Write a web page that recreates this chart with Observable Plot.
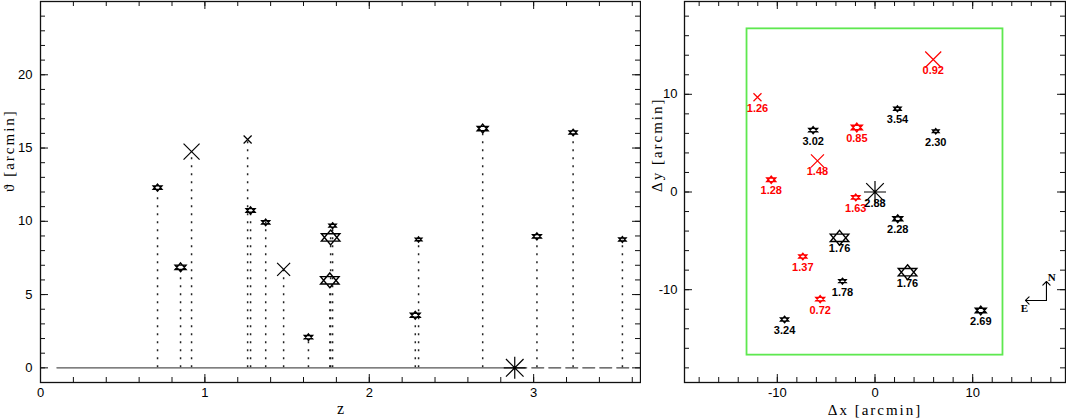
<!DOCTYPE html>
<html><head><meta charset="utf-8">
<script src="https://cdn.jsdelivr.net/npm/d3@7"></script>
<script src="https://cdn.jsdelivr.net/npm/@observablehq/plot@0.6"></script>
<style>
body{margin:0;background:#fff;}
#wrap{position:relative;width:1066px;height:419px;overflow:hidden;background:#fff;}
#left{position:absolute;left:0;top:0;}
#right{position:absolute;left:640px;top:0;}
#wrap g[font-size="15"]{letter-spacing:2px;}
</style></head><body><div id="wrap"><div id="left"></div><div id="right"></div></div>
<script>
// ---- data ----
const labels = ["0.72","0.85","0.92","1.26","1.28","1.37","1.48","1.63","1.76","1.76","1.78","2.28","2.30","2.69","2.88","3.02","3.24","3.54"];
const zVals  = [0.712,0.852,0.919,1.26,1.278,1.37,1.479,1.63,1.765,1.76,1.777,2.28,2.30,2.69,2.885,3.02,3.24,3.54];
const thetaVals = [12.3,6.86,14.76,15.58,10.74,9.93,6.72,2.09,8.9,5.97,9.7,3.59,8.76,16.33,0,8.97,16.06,8.76];
const dxVals = [-5.61,-1.86,5.96,-12.03,-10.62,-7.39,-5.89,-1.97,3.33,-3.63,-3.33,2.33,6.22,10.83,0,-6.33,-9.26,2.30];
const dyVals = [-10.97,6.60,13.56,9.70,1.25,-6.60,3.19,-0.56,-8.21,-4.69,-9.13,-2.74,6.22,-12.13,0,6.33,-13.05,8.52];
const kinds  = ["star","star","x","x","star","star","x","star","star","star","star","star","star","star","ast","star","star","star"];
const sizes  = [3.5,4.4,8,4,3.6,3.2,6.5,3.3,7.4,7.4,2.9,3.9,2.6,4.4,11,3.5,3.2,2.9];
const isRed  = [true,true,true,true,true,true,true,true,false,false,false,false,false,false,false,false,false,false];

const baseSolid  = [0.1, 2.885];
const baseDashed = [2.885, 3.58];
const fieldX = [-13.1, 13.1];
const fieldY = [-16.7, 16.7];
const compassCorner = [17.55, -11.1];
const compassN = [17.55, -9.16];
const compassE = [15.4, -11.1];
const compassLabels = [{t:"N", x:18.1, y:-8.7}, {t:"E", x:15.3, y:-11.95}];

const zTicks = [0,1,2,3];
const thetaTicks = [0,5,10,15,20];
const offTicks = [-10,0,10];

const rows = labels.map((l,i)=>({label:l, z:zVals[i], theta:thetaVals[i], dx:dxVals[i], dy:dyVals[i], kind:kinds[i], size:sizes[i], color:isRed[i]?"#ff0000":"#000000"}));

// ---- symbols ----
const hexagram = {draw(ctx, size){ const r=Math.sqrt(size/Math.PI), w=r*1.25;
  ctx.moveTo(0,-r); ctx.lineTo(w,r*0.5); ctx.lineTo(-w,r*0.5); ctx.closePath();
  ctx.moveTo(0,r); ctx.lineTo(w,-r*0.5); ctx.lineTo(-w,-r*0.5); ctx.closePath(); }};
const cross = {draw(ctx, size){ const r=Math.sqrt(size/Math.PI);
  ctx.moveTo(-r,-r); ctx.lineTo(r,r); ctx.moveTo(-r,r); ctx.lineTo(r,-r); }};
const asterisk = {draw(ctx, size){ const r=Math.sqrt(size/Math.PI), d=r*0.8;
  ctx.moveTo(-r,0); ctx.lineTo(r,0); ctx.moveTo(0,-r); ctx.lineTo(0,r);
  ctx.moveTo(-d,-d); ctx.lineTo(d,d); ctx.moveTo(-d,d); ctx.lineTo(d,-d); }};
const symFor = {star: hexagram, x: cross, ast: asterisk};

function range(a,b,s){const out=[];for(let v=a;v<=b+1e-9;v+=s)out.push(+v.toFixed(6));return out;}

// inward ticks on all four sides
function frameTicks(xMaj, xMin, yMaj, yMin, plotW, plotH){
  const M=8, m=5, st={stroke:"#111", strokeWidth:1};
  return [
    Plot.tickX(xMin,{x:d=>d, insetTop:plotH-m, ...st}),
    Plot.tickX(xMaj,{x:d=>d, insetTop:plotH-M, ...st}),
    Plot.tickX(xMin,{x:d=>d, insetBottom:plotH-m, ...st}),
    Plot.tickX(xMaj,{x:d=>d, insetBottom:plotH-M, ...st}),
    Plot.tickY(yMin,{y:d=>d, insetRight:plotW-m, ...st}),
    Plot.tickY(yMaj,{y:d=>d, insetRight:plotW-M, ...st}),
    Plot.tickY(yMin,{y:d=>d, insetLeft:plotW-m, ...st}),
    Plot.tickY(yMaj,{y:d=>d, insetLeft:plotW-M, ...st})
  ];
}
const tickFont = "'Liberation Sans', Arial, sans-serif";
const labFont = "'Liberation Serif', 'DejaVu Serif', serif";
const fmt = d => String(d);

function markers(xk, yk, fill){
  return ["star","x","ast"].map(k => Plot.dot(rows.filter(r=>r.kind===k), {
    x:xk, y:yk, r:"size", symbol: symFor[k], stroke: fill==="white" ? "#000" : "color",
    fill: k==="star" ? fill : "none", strokeWidth: k==="star"?1.4:1.2
  }));
}

// ---- left panel ----
const L = {w:641, h:419, ml:40, mr:1, mt:1, mb:37};
const left = Plot.plot({
  width:L.w, height:L.h, marginLeft:L.ml, marginRight:L.mr, marginTop:L.mt, marginBottom:L.mb,
  x:{domain:[0,3.65]}, y:{domain:[-1,25]}, r:{type:"identity"},
  style:{fontFamily:tickFont, fontSize:"13px", color:"#000", background:"transparent"},
  marks:[
    Plot.ruleX(rows.filter(r=>r.theta>0), {x:"z", y1:0, y2:"theta", stroke:"#222", strokeWidth:1.5, strokeDasharray:"2,6"}),
    Plot.line(baseSolid.map(v=>({z:v, t:0})), {x:"z", y:"t", stroke:"#555", strokeWidth:1.4}),
    Plot.line(baseDashed.map(v=>({z:v, t:0})), {x:"z", y:"t", stroke:"#444", strokeWidth:1.2, strokeDasharray:"12,5"}),
    ...markers("z","theta","white"),
    ...frameTicks(zTicks, range(0,3.6,0.2), thetaTicks, range(-1,25,1), L.w-L.ml-L.mr, L.h-L.mt-L.mb),
    Plot.frame({stroke:"#111", strokeWidth:1.3}),
    Plot.axisX(zTicks, {anchor:"bottom", tickSize:0, tickPadding:5, label:null, fontSize:13, tickFormat:fmt}),
    Plot.axisY(thetaTicks, {anchor:"left", tickSize:0, tickPadding:8, label:null, fontSize:13, tickFormat:fmt}),
    Plot.text(["ϑ [arcmin]"], {text:d=>d, frameAnchor:"left", dx:-31, rotate:-90, fontSize:15, fontFamily:labFont}),
    Plot.text(["z"], {text:d=>d, frameAnchor:"bottom", dy:31, fontSize:16, fontFamily:labFont})
  ]
});
document.getElementById("left").append(left);

// ---- right panel ----
const R = {w:426, h:419, ml:44, mr:1, mt:1, mb:37};
const right = Plot.plot({
  width:R.w, height:R.h, marginLeft:R.ml, marginRight:R.mr, marginTop:R.mt, marginBottom:R.mb,
  x:{domain:[-19.5,19.5]}, y:{domain:[-19.5,19.5]}, r:{type:"identity"}, color:{type:"identity"},
  style:{fontFamily:tickFont, fontSize:"13px", color:"#000", background:"transparent"},
  marks:[
    Plot.rect([0], {x1:fieldX[0], x2:fieldX[1], y1:fieldY[0], y2:fieldY[1], stroke:"#5ee84f", strokeWidth:1.8, fill:"none"}),
    ...markers("dx","dy","none"),
    Plot.text(rows, {x:"dx", y:"dy", text:"label", dy:11, fill:"color", fontSize:11, fontWeight:"bold", fontFamily:tickFont}),
    Plot.arrow([0,1], {x1:compassCorner[0], y1:compassCorner[1], x2:i=>i?compassE[0]:compassN[0], y2:i=>i?compassE[1]:compassN[1], stroke:"#000", strokeWidth:1.1, headLength:7, headAngle:90}),
    Plot.text(compassLabels, {x:"x", y:"y", text:"t", fontSize:11, fontWeight:"bold", fontFamily:labFont}),
    ...frameTicks(offTicks, range(-18,18,2), offTicks, range(-18,18,2), R.w-R.ml-R.mr, R.h-R.mt-R.mb),
    Plot.frame({stroke:"#111", strokeWidth:1.3}),
    Plot.axisX(offTicks, {anchor:"bottom", tickSize:0, tickPadding:5, label:null, fontSize:13, tickFormat:fmt}),
    Plot.axisY(offTicks, {anchor:"left", tickSize:0, tickPadding:7, label:null, fontSize:13, tickFormat:fmt}),
    Plot.text(["Δy [arcmin]"], {text:d=>d, frameAnchor:"left", dx:-27, rotate:-90, fontSize:15, fontFamily:labFont}),
    Plot.text(["Δx [arcmin]"], {text:d=>d, frameAnchor:"bottom", dy:32, fontSize:15, fontFamily:labFont})
  ]
});
document.getElementById("right").append(right);
</script></body></html>
